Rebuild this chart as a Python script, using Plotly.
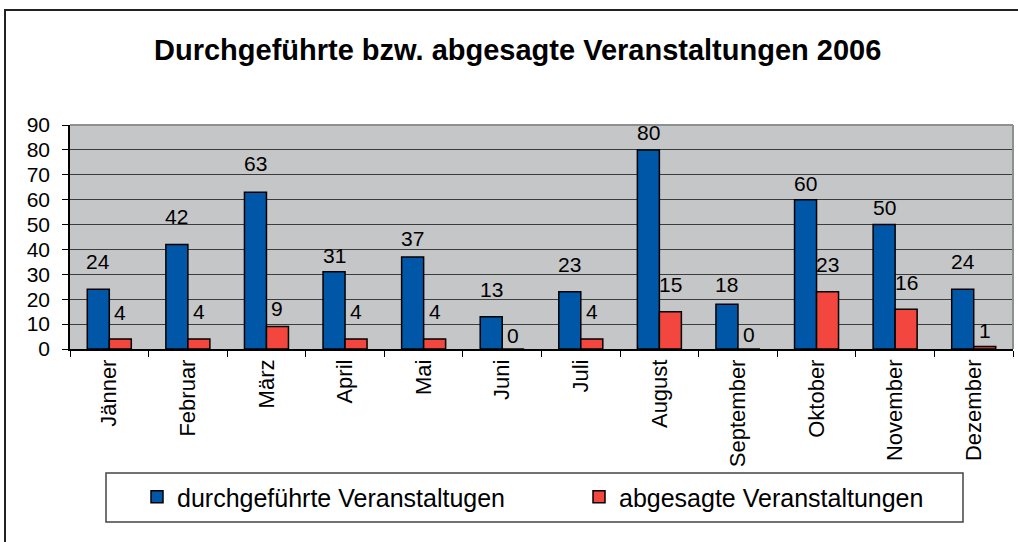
import plotly.graph_objects as go

months = ["Jänner", "Februar", "März", "April", "Mai", "Juni", "Juli",
          "August", "September", "Oktober", "November", "Dezember"]
durchgefuehrt = [24, 42, 63, 31, 37, 13, 23, 80, 18, 60, 50, 24]
abgesagt = [4, 4, 9, 4, 4, 0, 4, 15, 0, 23, 16, 1]
y_ticks = [0, 10, 20, 30, 40, 50, 60, 70, 80, 90]

title_text = "Durchgeführte bzw. abgesagte Veranstaltungen 2006"
name_a = "durchgeführte Veranstaltugen"
name_b = "abgesagte Veranstaltungen"

# label gap above bar top (px), styling only
gap_a = [19, 19, 20, 8, 10, 19, 19, 9, 11, 8, 9, 19]
gap_b = [18, 19, 10, 19, 19, 5, 19, 19, 6, 19, 18, 8]

BLUE = "#0057A8"
RED = "#F2463F"
FONT = "Liberation Sans, Arial, sans-serif"

W, H = 1018, 542
L, R, T, B = 70, 5, 125, 193
pw, ph = W - L - R, H - T - B


def px_x(x):
    return (x - L) / pw


def px_y(y):
    return (H - B - y) / ph


fig = go.Figure()
fig.add_trace(go.Bar(x=months, y=durchgefuehrt, name=name_a,
                     marker=dict(color=BLUE, line=dict(color="black", width=1.5)),
                     legend="legend"))
fig.add_trace(go.Bar(x=months, y=abgesagt, name=name_b,
                     marker=dict(color=RED, line=dict(color="black", width=1.5)),
                     legend="legend2"))

ann = []
for vals, gaps, shift in ((durchgefuehrt, gap_a, -11), (abgesagt, gap_b, 11)):
    for m, v, g in zip(months, vals, gaps):
        ann.append(dict(x=m, y=v, xref="x", yref="y", text=str(v), showarrow=False,
                        xshift=shift, yshift=g - 5, yanchor="bottom",
                        font=dict(size=21, color="black", family=FONT)))
ann.append(dict(text=title_text, xref="paper", yref="paper",
                x=px_x(517), y=px_y(50), xanchor="center", yanchor="middle",
                showarrow=False,
                font=dict(size=29, color="black", family=FONT, weight="bold")))

shapes = [
    # outer frame
    dict(type="rect", xref="paper", yref="paper", x0=px_x(5), x1=px_x(1030),
         y0=px_y(560), y1=px_y(10), line=dict(color="#222222", width=2), layer="below"),
    # legend box
    dict(type="rect", xref="paper", yref="paper", x0=px_x(106), x1=px_x(963),
         y0=px_y(522), y1=px_y(473), line=dict(color="#444444", width=1.5),
         fillcolor="white", layer="below"),
    # plot area top/right border
    dict(type="line", xref="paper", yref="paper", x0=0, x1=1, y0=1, y1=1,
         line=dict(color="#8E9090", width=2)),
    dict(type="line", xref="paper", yref="paper", x0=1, x1=1, y0=0, y1=1,
         line=dict(color="#8E9090", width=2)),
]

fig.update_layout(
    width=W, height=H,
    margin=dict(l=L, r=R, t=T, b=B),
    paper_bgcolor="white",
    plot_bgcolor="#C5C6C8",
    barmode="group", bargap=0.44, bargroupgap=0,
    font=dict(family=FONT, color="black"),
    annotations=ann,
    shapes=shapes,
    showlegend=True,
    legend=dict(orientation="h", x=px_x(137), y=px_y(497), xanchor="left",
                yanchor="middle", bgcolor="rgba(0,0,0,0)",
                font=dict(size=25, family=FONT, color="black")),
    legend2=dict(orientation="h", x=px_x(579), y=px_y(497), xanchor="left",
                 yanchor="middle", bgcolor="rgba(0,0,0,0)",
                 font=dict(size=25, family=FONT, color="black")),
)

fig.update_xaxes(showline=True, linecolor="black", linewidth=1.5,
                 ticks="outside", ticklen=6, tickcolor="black", tickson="boundaries",
                 tickangle=-90, tickfont=dict(size=22, family=FONT, color="black"),
                 showgrid=False)
fig.update_yaxes(range=[0, 90], tickvals=y_ticks, showline=True, linecolor="black",
                 linewidth=1.5, ticks="outside", ticklen=6, tickcolor="black",
                 tickfont=dict(size=21, family=FONT, color="black"),
                 showgrid=True, gridcolor="#3C3C3C", gridwidth=1, zeroline=False,
                 ticklabelstandoff=8)

fig.write_html("out.html", config={"displayModeBar": False},
               post_script="document.body.style.margin='0';document.body.style.overflow='hidden';")
